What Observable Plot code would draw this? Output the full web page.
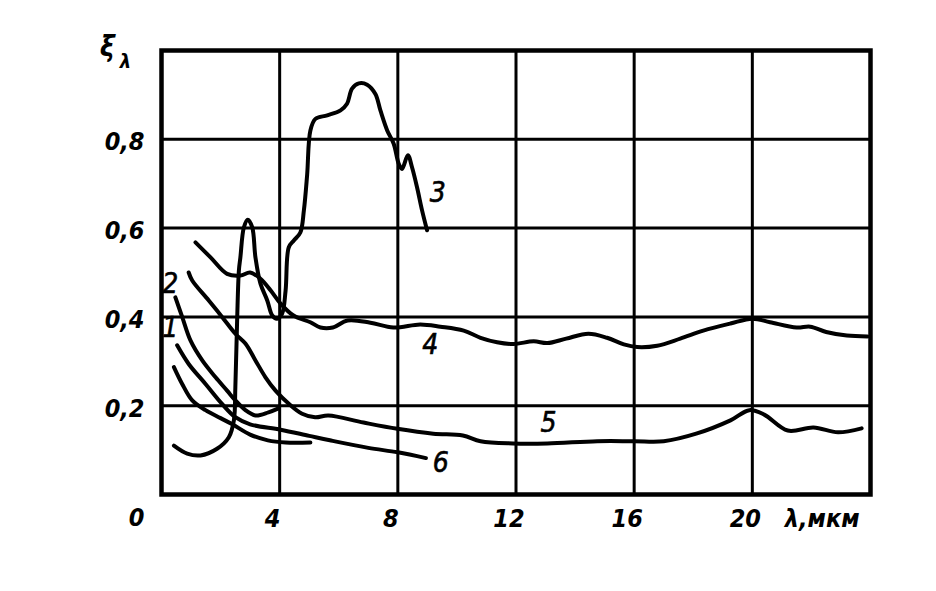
<!DOCTYPE html>
<html><head><meta charset="utf-8">
<script src="https://cdn.jsdelivr.net/npm/d3@7"></script>
<script src="https://cdn.jsdelivr.net/npm/@observablehq/plot@0.6"></script>
<style>body{margin:0;background:#fff}</style>
</head><body><div id="chart"></div>
<script>
// tick values
const xTicks = [0, 4, 8, 12, 16, 20];
const yTicks = [0.2, 0.4, 0.6, 0.8];
const gridX = [4, 8, 12, 16, 20];
const gridY = [0.2, 0.4, 0.6, 0.8];

// curve 1
const c1x = [0.42, 0.70, 1.04, 1.49, 2.0, 2.4, 3.0, 3.6, 4.2, 5.04];
const c1y = [0.287, 0.249, 0.212, 0.19, 0.172, 0.158, 0.135, 0.122, 0.117, 0.117];
// curve 2
const c2x = [0.47, 0.70, 0.98, 1.38, 1.83, 2.22, 2.5, 2.84, 3.18, 3.62, 3.96];
const c2y = [0.444, 0.40, 0.347, 0.302, 0.264, 0.234, 0.212, 0.19, 0.178, 0.185, 0.194];
// curve 3
const c3x = [0.42, 0.87, 1.32, 1.88, 2.28, 2.45, 2.5, 2.56, 2.62, 2.67, 2.79, 2.92, 3.07, 3.18, 3.35, 3.58, 3.75, 3.91, 4.08, 4.2, 4.31, 4.48, 4.7, 4.82, 4.93, 5.04, 5.21, 5.61, 6.06, 6.28, 6.45, 6.68, 6.96, 7.24, 7.41, 7.64, 7.86, 8.03, 8.14, 8.34, 8.48, 8.65, 8.82, 8.99];
const c3y = [0.11, 0.092, 0.088, 0.103, 0.129, 0.167, 0.242, 0.392, 0.505, 0.534, 0.602, 0.619, 0.602, 0.534, 0.475, 0.437, 0.403, 0.396, 0.407, 0.459, 0.557, 0.572, 0.59, 0.64, 0.72, 0.82, 0.846, 0.854, 0.865, 0.88, 0.914, 0.926, 0.923, 0.902, 0.865, 0.82, 0.79, 0.745, 0.733, 0.764, 0.737, 0.692, 0.64, 0.595];
// curve 4
const c4x = [1.15, 1.66, 2.22, 2.67, 3.0, 3.35, 3.69, 4.03, 4.47, 5.04, 5.38, 5.8, 6.3, 7.07, 7.85, 8.76, 9.44, 10.23, 10.8, 11.36, 11.92, 12.6, 13.06, 13.7, 14.45, 15.08, 15.65, 16.1, 16.78, 17.56, 18.34, 19.26, 20.0, 20.6, 21.5, 21.96, 22.5, 23.2, 23.9];
const c4y = [0.568, 0.534, 0.497, 0.493, 0.5, 0.486, 0.46, 0.43, 0.403, 0.388, 0.376, 0.376, 0.392, 0.387, 0.376, 0.383, 0.378, 0.369, 0.353, 0.343, 0.339, 0.345, 0.341, 0.351, 0.362, 0.353, 0.338, 0.332, 0.335, 0.351, 0.369, 0.385, 0.396, 0.388, 0.376, 0.378, 0.366, 0.358, 0.356];
// curve 5
const c5x = [0.92, 1.04, 1.6, 2.05, 2.5, 2.84, 3.18, 3.52, 3.86, 4.3, 4.76, 5.2, 5.65, 6.84, 7.98, 9.2, 10.2, 10.8, 11.9, 13.06, 14.75, 16.0, 17.0, 18.1, 19.26, 19.9, 20.4, 21.2, 22.07, 22.9, 23.7];
const c5y = [0.5, 0.482, 0.437, 0.4, 0.362, 0.34, 0.302, 0.264, 0.234, 0.205, 0.182, 0.174, 0.178, 0.162, 0.148, 0.137, 0.133, 0.12, 0.115, 0.115, 0.12, 0.12, 0.12, 0.137, 0.167, 0.19, 0.18, 0.144, 0.151, 0.14, 0.149];
// curve 6
const c6x = [0.53, 0.92, 1.49, 2.05, 2.5, 3.0, 4.03, 5.0, 5.7, 7.0, 8.0, 8.95];
const c6y = [0.336, 0.294, 0.249, 0.204, 0.174, 0.158, 0.146, 0.132, 0.122, 0.105, 0.095, 0.082];

// curve labels
const curveNames = ["1", "2", "3", "4", "5", "6"];
const nameX = [0.3, 0.3, 9.35, 9.1, 13.1, 9.45];
const nameY = [0.374, 0.475, 0.68, 0.336, 0.16, 0.072];

const pts = (xs, ys) => xs.map((x, i) => ({x, y: ys[i]}));
const curves = [[c1x, c1y], [c2x, c2y], [c3x, c3y], [c4x, c4y], [c5x, c5y], [c6x, c6y]];

const fontFam = "'DejaVu Sans Condensed', 'DejaVu Sans', sans-serif";
const tickFmt = v => String(v).replace(".", ",");

const chart = Plot.plot({
  width: 936, height: 591,
  marginLeft: 161, marginRight: 66, marginTop: 50, marginBottom: 97,
  x: {domain: [0, 24], axis: null},
  y: {domain: [0, 1], axis: null},
  style: {background: "white", fontFamily: fontFam},
  marks: [
    Plot.ruleX(gridX, {stroke: "black", strokeWidth: 3}),
    Plot.ruleY(gridY, {stroke: "black", strokeWidth: 3}),
    Plot.frame({stroke: "black", strokeWidth: 4.5}),
    ...curves.map(([xs, ys]) => Plot.line(pts(xs, ys), {x: "x", y: "y", stroke: "black", strokeWidth: 4, curve: "catmull-rom", strokeLinecap: "round", strokeLinejoin: "round"})),
    // y tick labels
    Plot.text(yTicks, {x: 0, y: d => d, text: tickFmt, textAnchor: "end", dx: -17, dy: 3, fontSize: 25, fontWeight: "bold", fontStyle: "italic", fill: "black"}),
    // x tick labels
    Plot.text(xTicks.filter(d => d > 0), {x: d => d, y: 0, text: d => String(d), dy: 24, dx: -7, fontSize: 25, fontWeight: "bold", fontStyle: "italic", fill: "black"}),
    Plot.text([0], {x: 0, y: 0, text: d => String(d), dy: 23, dx: -25, fontSize: 25, fontWeight: "bold", fontStyle: "italic", fill: "black"}),
    // axis titles
    Plot.text(["λ,мкм"], {x: 21.1, y: 0, text: d => d, textAnchor: "start", dy: 24, fontSize: 25, fontWeight: "bold", fontStyle: "italic", fill: "black"}),
    Plot.text(["ξ"], {x: 0, y: 1, text: d => d, dx: -54, dy: -3, fontSize: 28, fontWeight: "bold", fontStyle: "italic", fill: "black"}),
    Plot.text(["λ"], {x: 0, y: 1, text: d => d, dx: -36, dy: 11, fontSize: 20, fontWeight: "bold", fontStyle: "italic", fill: "black"}),
    // curve labels
    Plot.text(curveNames, {x: (d, i) => nameX[i], y: (d, i) => nameY[i], text: d => d, fontSize: 28, fontStyle: "italic", fill: "black", stroke: "black", strokeWidth: 0.6})
  ]
});
document.getElementById("chart").appendChild(chart);
</script>
</body></html>
